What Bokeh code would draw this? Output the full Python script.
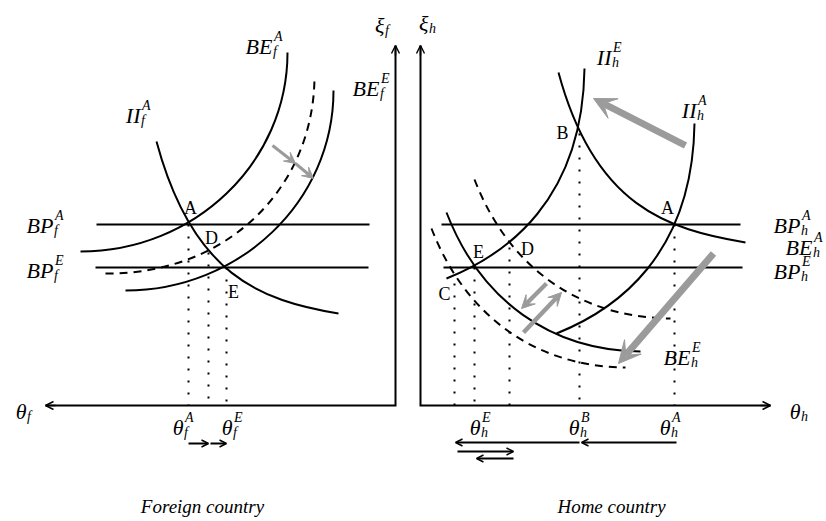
from bokeh.plotting import figure
from bokeh.models import Range1d, ColumnDataSource, Arrow, VeeHead, OpenHead
from bokeh.core.properties import value
from bokeh.embed import file_html
from bokeh.resources import INLINE

# ---------------- data (diagram coordinates, y grows downward) ----------------
# Cubic Bezier curves: start, control 1, control 2, end
curve_names = ["BE_f^A", "BE_f^E", "II_f^A", "BE_h^A", "II_h^E", "II_h^A", "BE_h^E"]
curve_x0 = [80, 125, 156, 558, 446, 556, 446]
curve_y0 = [251, 290, 141, 72, 278, 333, 212]
curve_cx0 = [194, 239, 192, 594, 506, 616, 480]
curve_cy0 = [251, 290, 275, 206, 254, 309, 300]
curve_cx1 = [287, 333, 260, 667, 582, 692, 550]
curve_cy1 = [162, 201, 300, 229, 200, 255, 350]
curve_x1 = [287, 333, 338, 745, 584, 694, 640]
curve_y1 = [52, 90, 313, 242, 68, 123, 351]

dash_names = ["BE_f^mid", "BE_h^mid1", "BE_h^mid2"]
dash_x0 = [105, 474, 431]
dash_y0 = [273, 179, 228]
dash_cx0 = [228, 508, 465]
dash_cy0 = [274, 267, 316]
dash_cx1 = [314, 578, 535]
dash_cy1 = [186, 317, 366]
dash_x1 = [314, 670, 625]
dash_y1 = [75, 318, 367]

# BP lines (horizontal)
bp_names = ["BP_f^A", "BP_f^E", "BP_h^A", "BP_h^E"]
bp_x0 = [96, 95, 441, 443]
bp_x1 = [369, 368, 740, 742]
bp_y = [224, 267, 224, 267]

# Axes
axis_y = 405
left_axis_x = 395
right_axis_x = 420
axis_top = 45
left_axis_end = 45
right_axis_end = 770

# Equilibrium projections (dotted)
dot_x = [188, 208, 226, 454, 474, 509, 579, 674]
dot_top = [224, 252, 267, 283, 267, 247, 133, 224]

# Point labels
pt_text = ["A", "D", "E", "B", "A", "E", "D", "C"]
pt_x = [190, 211, 233, 562, 667, 478, 527, 444]
pt_y = [207, 237, 291, 132, 207, 251, 248, 293]

# Math labels: base, subscript, superscript, x where scripts start, baseline y
lab_base = ["BE", "BE", "II", "BP", "BP", "ξ", "θ", "θ", "θ",
            "II", "II", "BP", "BE", "BP", "BE", "ξ", "θ", "θ", "θ", "θ"]
lab_sub = ["f", "f", "f", "f", "f", "f", "f", "f", "f",
           "h", "h", "h", "h", "h", "h", "h", "h", "h", "h", "h"]
lab_sup = ["A", "E", "A", "A", "E", "", "", "A", "E",
           "E", "A", "A", "A", "E", "E", "", "", "E", "B", "A"]
lab_x = [272, 379, 140, 53, 53, 384, 26, 183, 232,
         611, 696, 800, 812, 800, 690, 428, 800, 480, 579, 670]
lab_y = [46, 88, 115, 225, 270, 25, 411, 427, 427,
         57, 110, 225, 247, 271, 357, 23, 411, 427, 427, 427]

# Black movement arrows under the axes
mv_x0 = [188, 210, 579, 676, 457, 513]
mv_x1 = [208, 226, 455, 581, 513, 476]
mv_y = [443, 443, 442, 442, 451, 458]

# Gray shift arrows
g_x0 = [272, 295, 685, 713, 546, 523]
g_y0 = [145, 163, 145, 253, 283, 332]
g_x1 = [295, 313, 593, 618, 521, 561]
g_y1 = [163, 178, 98, 363, 308, 292]
g_w = [3, 3, 7, 7, 4.5, 4.5]
g_head = [11, 11, 22, 22, 13, 13]

panel_titles = ["Foreign country", "Home country"]
title_x = [202, 611]
title_y = [506, 506]

# ---------------- figure ----------------
W, H = 824, 519
p = figure(width=W, height=H, x_range=Range1d(0, W), y_range=Range1d(H, 0),
           output_backend="svg", toolbar_location=None, min_border=0)
p.axis.visible = False
p.grid.visible = False
p.outline_line_color = None
p.background_fill_color = "white"
p.border_fill_color = "white"

serif = value("Liberation Serif")
gray = "#9b9b9b"

# dotted projections
p.segment(x0=dot_x, y0=dot_top, x1=dot_x, y1=[axis_y] * len(dot_x),
          line_color="black", line_width=2, line_dash="2 10")

# BP lines
p.segment(x0=bp_x0, y0=bp_y, x1=bp_x1, y1=bp_y, line_color="black", line_width=2)

# solid curves
src_c = ColumnDataSource(dict(x0=curve_x0, y0=curve_y0, x1=curve_x1, y1=curve_y1,
                              cx0=curve_cx0, cy0=curve_cy0, cx1=curve_cx1, cy1=curve_cy1))
p.bezier(x0="x0", y0="y0", x1="x1", y1="y1", cx0="cx0", cy0="cy0", cx1="cx1", cy1="cy1",
         source=src_c, line_color="black", line_width=2)

# dashed curves
src_d = ColumnDataSource(dict(x0=dash_x0, y0=dash_y0, x1=dash_x1, y1=dash_y1,
                              cx0=dash_cx0, cy0=dash_cy0, cx1=dash_cx1, cy1=dash_cy1))
p.bezier(x0="x0", y0="y0", x1="x1", y1="y1", cx0="cx0", cy0="cy0", cx1="cx1", cy1="cy1",
         source=src_d, line_color="black", line_width=2, line_dash="8 6")

# axes
p.line([left_axis_end, left_axis_x, left_axis_x], [axis_y, axis_y, axis_top],
       line_color="black", line_width=2, line_join="miter")
p.line([right_axis_end, right_axis_x, right_axis_x], [axis_y, axis_y, axis_top],
       line_color="black", line_width=2, line_join="miter")
for xs, ys, xe, ye in [(left_axis_end + 10, axis_y, left_axis_end, axis_y),
                       (left_axis_x, axis_top + 10, left_axis_x, axis_top),
                       (right_axis_end - 10, axis_y, right_axis_end, axis_y),
                       (right_axis_x, axis_top + 10, right_axis_x, axis_top)]:
    p.add_layout(Arrow(end=OpenHead(size=8, line_width=1.4, line_color="black"),
                       x_start=xs, y_start=ys, x_end=xe, y_end=ye,
                       line_width=1.5, line_color="black"))

# movement arrows
src_mv = ColumnDataSource(dict(x0=mv_x0, x1=mv_x1, y=mv_y))
p.add_layout(Arrow(end=OpenHead(size=7, line_width=1.4, line_color="black"),
                   x_start="x0", y_start="y", x_end="x1", y_end="y",
                   line_width=2, line_color="black", source=src_mv))

# gray arrows
for i in range(len(g_x0)):
    p.add_layout(Arrow(end=VeeHead(size=g_head[i], fill_color=gray, line_color=gray, line_width=1),
                       x_start=g_x0[i], y_start=g_y0[i], x_end=g_x1[i], y_end=g_y1[i],
                       line_width=g_w[i], line_color=gray))

# point labels
p.text(x=pt_x, y=pt_y, text=pt_text, text_font=serif, text_font_size="18px",
       text_align="center", text_baseline="middle", text_color="black")

# math labels
p.text(x=lab_x, y=lab_y, text=lab_base, text_font=serif, text_font_style="italic",
       text_font_size="22px", text_align="right", text_baseline="alphabetic", text_color="black")
p.text(x=[x + 0.5 for x in lab_x], y=[y + 5 for y in lab_y], text=lab_sub, text_font=serif,
       text_font_style="italic", text_font_size="14px", text_align="left",
       text_baseline="alphabetic", text_color="black")
p.text(x=[x + 1.5 for x in lab_x], y=[y - 10 for y in lab_y], text=lab_sup, text_font=serif,
       text_font_style="italic", text_font_size="14px", text_align="left",
       text_baseline="alphabetic", text_color="black")

# panel titles
p.text(x=title_x, y=title_y, text=panel_titles, text_font=serif, text_font_style="italic",
       text_font_size="19px", text_align="center", text_baseline="middle", text_color="black")

open("out.html", "w").write(file_html(p, INLINE))
